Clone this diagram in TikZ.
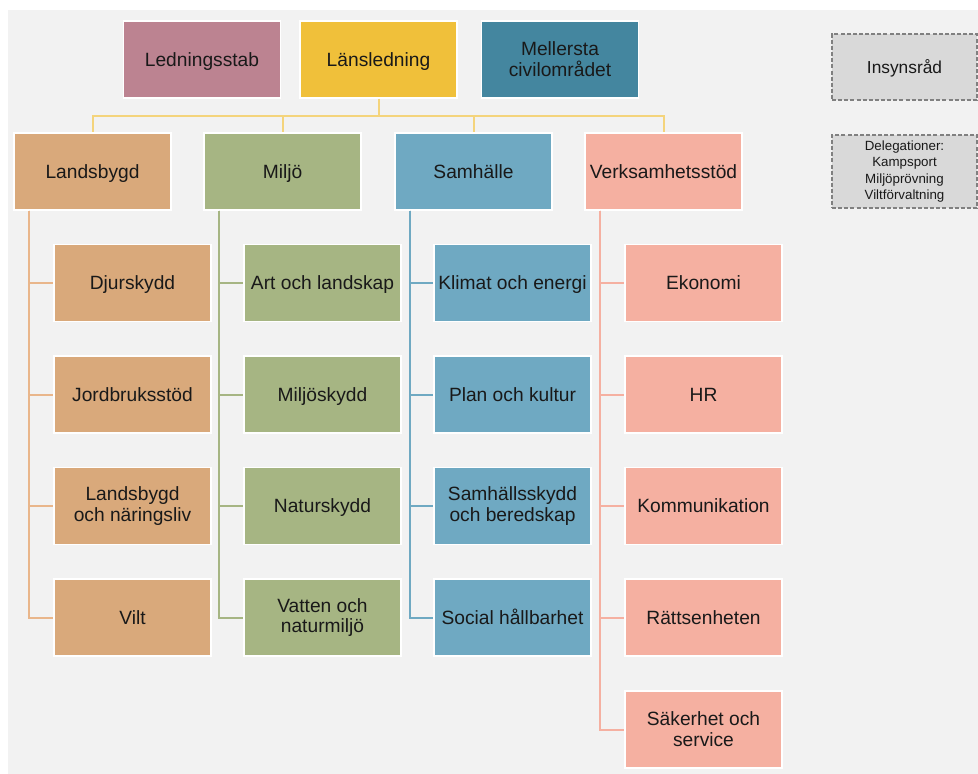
\documentclass[tikz,border=0pt]{standalone}
\usepackage{fontspec}
\setmainfont{Liberation Sans}
\definecolor{bgGray}{HTML}{F2F2F2}
\definecolor{stabRose}{HTML}{BC8391}
\definecolor{lansGold}{HTML}{F0C03A}
\definecolor{civilTeal}{HTML}{44869F}
\definecolor{landTan}{HTML}{D9A97B}
\definecolor{miljoGreen}{HTML}{A6B583}
\definecolor{samBlue}{HTML}{6FA9C2}
\definecolor{verkPink}{HTML}{F5B0A1}
\definecolor{busYellow}{HTML}{F4D47C}
\definecolor{landLine}{HTML}{E9B68B}
\definecolor{dashFill}{HTML}{D9D9D9}
\begin{document}
\begin{tikzpicture}[
        x=0.75pt, y=-0.75pt,
        box/.style={draw=white, line width=0.8pt, minimum width=117.75pt, minimum height=57.75pt, inner sep=1pt, align=center, text=black!90, font=\fontsize{14.4}{15.6}\selectfont},
        unit/.style={box, text height=10.3pt, text depth=0pt},
        unit2/.style={box},
        dash box/.style={draw=black!50, fill=dashFill, line width=1pt, dash pattern=on 3pt off 1.6pt, align=center, text=black!90},
        bus edge/.style={draw, line width=1.5pt, busYellow},
        land edge/.style={draw, line width=1.5pt, landLine},
        miljo edge/.style={draw, line width=1.5pt, miljoGreen},
        sam edge/.style={draw, line width=1.5pt, samBlue},
        verk edge/.style={draw, line width=1.5pt, verkPink}
    ]
	\useasboundingbox (0,0) rectangle (978,774);
	\fill[bgGray] (8,10) rectangle (978,774);
	\node[unit, fill=stabRose] (stab) at (202,59.5) {Ledningsstab};
	\node[unit, fill=lansGold] (lans) at (378.5,59.5) {Länsledning};
	\node[unit2, fill=civilTeal] (civil) at (560,59.5) {Mellersta\\civilområdet};
	\node[dash box, minimum width=108.75pt, minimum height=49.5pt, text height=9.3pt, text depth=0pt, font=\fontsize{13}{15}\selectfont] (insyn) at (904.5,67) {Insynsråd};
	\node[dash box, minimum width=108.75pt, minimum height=54.75pt, inner sep=1pt, font=\fontsize{10}{12.4}\selectfont] (deleg) at (904.5,171.5) {Delegationer:\\Kampsport\\Miljöprövning\\Viltförvaltning};
	\node[unit, fill=landTan] (land) at (92.5,171.5) {Landsbygd};
	\node[unit, fill=miljoGreen] (miljo) at (282.5,171.5) {Miljö};
	\node[unit, fill=samBlue] (sam) at (473.5,171.5) {Samhälle};
	\node[unit, fill=verkPink] (verk) at (663.5,171.5) {Verksamhetsstöd};
	\node[unit, fill=landTan] (land_1) at (132.5,283) {Djurskydd};
	\node[unit, fill=landTan] (land_2) at (132.5,394.5) {Jordbruksstöd};
	\node[unit2, fill=landTan] (land_3) at (132.5,506) {Landsbygd\\och näringsliv};
	\node[unit, fill=landTan] (land_4) at (132.5,617.5) {Vilt};
	\node[unit, fill=miljoGreen] (miljo_1) at (322.5,283) {Art och landskap};
	\node[unit, fill=miljoGreen] (miljo_2) at (322.5,394.5) {Miljöskydd};
	\node[unit, fill=miljoGreen] (miljo_3) at (322.5,506) {Naturskydd};
	\node[unit2, fill=miljoGreen] (miljo_4) at (322.5,617.5) {Vatten och\\naturmiljö};
	\node[unit, fill=samBlue] (sam_1) at (512.5,283) {Klimat och energi};
	\node[unit, fill=samBlue] (sam_2) at (512.5,394.5) {Plan och kultur};
	\node[unit2, fill=samBlue] (sam_3) at (512.5,506) {Samhällsskydd\\och beredskap};
	\node[unit, fill=samBlue] (sam_4) at (512.5,617.5) {Social hållbarhet};
	\node[unit, fill=verkPink] (verk_1) at (703.5,283) {Ekonomi};
	\node[unit, fill=verkPink] (verk_2) at (703.5,394.5) {HR};
	\node[unit, fill=verkPink] (verk_3) at (703.5,506) {Kommunikation};
	\node[unit, fill=verkPink] (verk_4) at (703.5,617.5) {Rättsenheten};
	\node[unit2, fill=verkPink] (verk_5) at (703.5,729.5) {Säkerhet och\\service};
	\coordinate (bus) at (378.5,116);
	\draw[bus edge] (lans.south) -- (bus);
	\draw[bus edge] (bus) -| (land.north);
	\draw[bus edge] (bus) -| (miljo.north);
	\draw[bus edge] (bus) -| (sam.north);
	\draw[bus edge] (bus) -| (verk.north);
	\draw[land edge] ([xshift=12pt]land.south west) |- (land_1.west);
	\draw[land edge] ([xshift=12pt]land.south west) |- (land_2.west);
	\draw[land edge] ([xshift=12pt]land.south west) |- (land_3.west);
	\draw[land edge] ([xshift=12pt]land.south west) |- (land_4.west);
	\draw[miljo edge] ([xshift=12pt]miljo.south west) |- (miljo_1.west);
	\draw[miljo edge] ([xshift=12pt]miljo.south west) |- (miljo_2.west);
	\draw[miljo edge] ([xshift=12pt]miljo.south west) |- (miljo_3.west);
	\draw[miljo edge] ([xshift=12pt]miljo.south west) |- (miljo_4.west);
	\draw[sam edge] ([xshift=12pt]sam.south west) |- (sam_1.west);
	\draw[sam edge] ([xshift=12pt]sam.south west) |- (sam_2.west);
	\draw[sam edge] ([xshift=12pt]sam.south west) |- (sam_3.west);
	\draw[sam edge] ([xshift=12pt]sam.south west) |- (sam_4.west);
	\draw[verk edge] ([xshift=12pt]verk.south west) |- (verk_1.west);
	\draw[verk edge] ([xshift=12pt]verk.south west) |- (verk_2.west);
	\draw[verk edge] ([xshift=12pt]verk.south west) |- (verk_3.west);
	\draw[verk edge] ([xshift=12pt]verk.south west) |- (verk_4.west);
	\draw[verk edge] ([xshift=12pt]verk.south west) |- (verk_5.west);
    \end{tikzpicture}
\end{document}
